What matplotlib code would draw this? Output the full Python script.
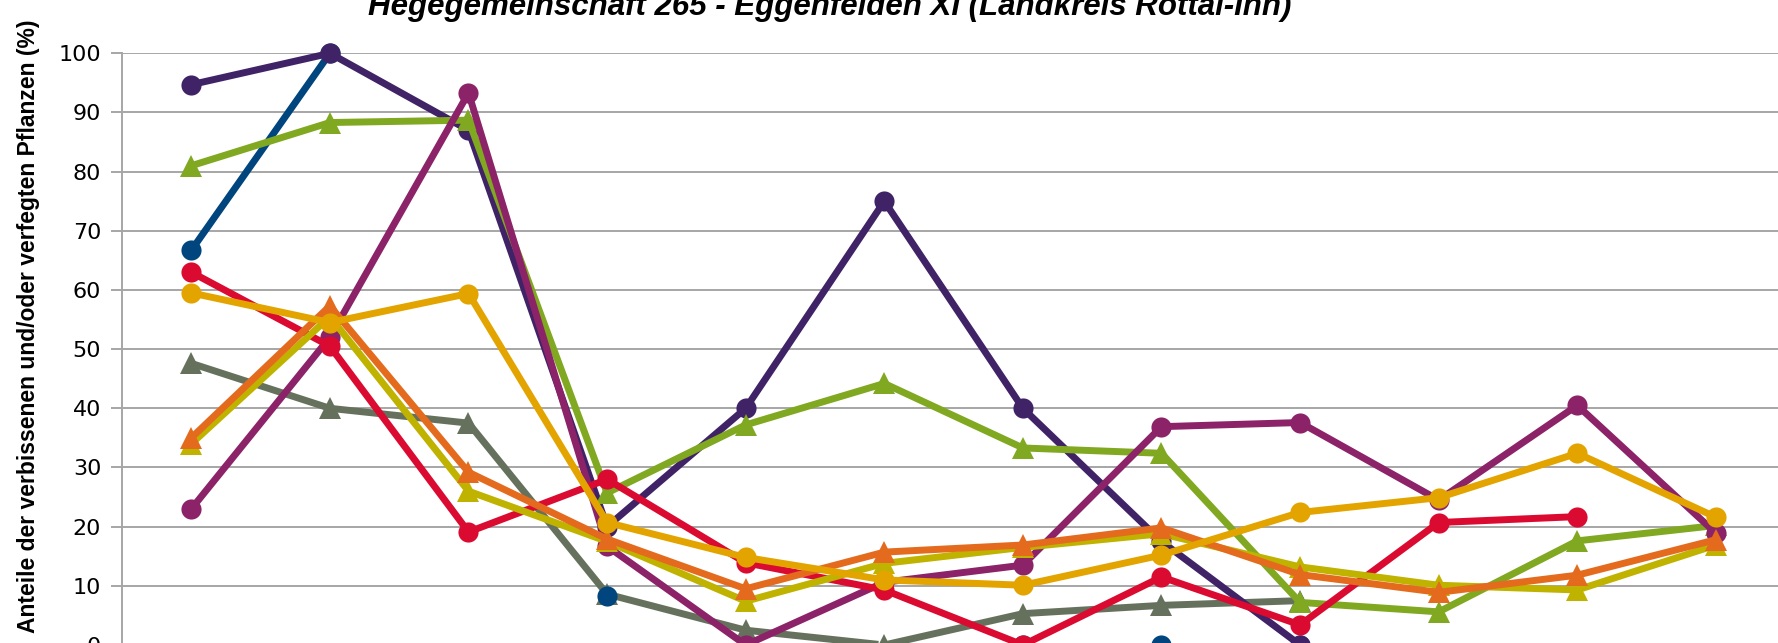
import numpy as np
import matplotlib
matplotlib.use("Agg")
import matplotlib.pyplot as plt

nan = np.nan
title = "Hegegemeinschaft 265 - Eggenfelden XI (Landkreis Rottal-Inn)"
ylabel = "Anteile der verbissenen und/oder verfegten Pflanzen (%)"
categories = list(range(12))
yticks = [0, 10, 20, 30, 40, 50, 60, 70, 80, 90, 100]

gray_vals    = [47.6, 40.0, 37.5, 8.6, 2.5, 0.0, 5.3, 6.7, 7.5, nan, nan, nan]
blue_vals    = [66.7, 100.0, nan, 8.3, nan, nan, 0.0, 0.0, 0.0, nan, nan, nan]
dpurple_vals = [94.7, 100.0, 87.0, 20.0, 40.0, 75.0, 40.0, 17.5, 0.0, nan, nan, nan]
green_vals   = [81.0, 88.3, 88.7, 25.7, 37.2, 44.2, 33.3, 32.4, 7.2, 5.6, 17.6, 20.2]
magenta_vals = [23.0, 52.0, 93.3, 16.7, 0.0, 10.6, 13.5, 36.9, 37.6, 24.5, 40.5, 18.9]
red_vals     = [63.0, 50.5, 19.1, 28.0, 13.9, 9.3, 0.0, 11.5, 3.4, 20.7, 21.7, nan]
olive_vals   = [34.0, 55.5, 26.0, 17.5, 7.4, 13.8, 16.5, 18.8, 13.2, 10.1, 9.3, 16.9]
orange_vals  = [35.0, 57.3, 29.2, 17.9, 9.5, 15.7, 16.9, 19.8, 11.9, 8.9, 11.8, 17.8]
gold_vals    = [59.5, 54.5, 59.4, 20.7, 14.8, 11.0, 10.1, 15.2, 22.4, 24.9, 32.4, 21.6]

series = [
    (gray_vals, "#66715D", "^"),
    (blue_vals, "#00457D", "o"),
    (dpurple_vals, "#3F2366", "o"),
    (green_vals, "#80A821", "^"),
    (magenta_vals, "#8C2268", "o"),
    (red_vals, "#DB0A31", "o"),
    (olive_vals, "#BFB300", "^"),
    (orange_vals, "#E46B1E", "^"),
    (gold_vals, "#E3A400", "o"),
]

W, H = 1778, 643
fig = plt.figure(figsize=(W / 100, H / 100), dpi=100)
left = 122 / W
width = (12 * 138.6) / W
y100 = 1 - 53.3 / H
y0 = 1 - 645 / H
ax = fig.add_axes([left, y0, width, y100 - y0])

for vals, col, mk in series:
    ax.plot(categories, vals, color=col, lw=5.0, marker=mk,
            markersize=14.5 if mk == "o" else 15.5, markeredgewidth=0,
            solid_joinstyle="miter", zorder=3, clip_on=False)

ax.set_xlim(-0.5, 11.5)
ax.set_ylim(0, 100)
ax.set_yticks(yticks)
ax.set_xticks([])
ax.grid(axis="y", color="#A6A6A6", lw=1.4)
ax.set_axisbelow(True)
for s in ["top", "right", "bottom"]:
    ax.spines[s].set_visible(False)
ax.spines["left"].set_color("#A6A6A6")
ax.spines["left"].set_linewidth(1.4)
ax.tick_params(axis="y", length=8, width=1.4, color="#A6A6A6",
               labelsize=16, pad=7)

ax.set_ylabel(ylabel, fontsize=16.5, fontweight="bold",
              family=["Liberation Sans", "DejaVu Sans"])
ax.yaxis.set_label_coords((40 - 122) / (12 * 138.6), (645 - 326) / (645 - 53.3))

fig.text(830 / W, 1 - 15 / H, title, ha="center", va="baseline",
         fontsize=22.5, fontweight="bold", style="italic",
         family=["Liberation Sans", "DejaVu Sans"])

fig.savefig("out.png", dpi=100)
